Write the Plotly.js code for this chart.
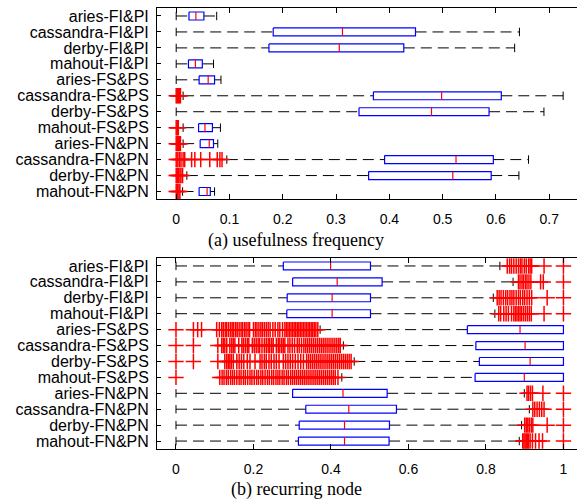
<!DOCTYPE html>
<html><head><meta charset="utf-8">
<script src="https://cdn.plot.ly/plotly-3.0.1.min.js"></script>
<style>html,body{margin:0;padding:0;background:#fff}#chart{width:577px;height:504px}</style>
</head><body><div id="chart"></div>
<script>
const categories = ['aries-FI&PI','cassandra-FI&PI','derby-FI&PI','mahout-FI&PI',
  'aries-FS&PS','cassandra-FS&PS','derby-FS&PS','mahout-FS&PS',
  'aries-FN&PN','cassandra-FN&PN','derby-FN&PN','mahout-FN&PN'];

// (a) usefulness frequency
const freqLo  = [0, 0, 0, 0, 0, 0.013, 0, 0.013, 0.013, 0.095, 0.02, 0.012];
const freqQ1  = [0.024, 0.182, 0.174, 0.023, 0.043, 0.370, 0.343, 0.042, 0.045, 0.391, 0.361, 0.043];
const freqMed = [0.037, 0.312, 0.306, 0.036, 0.060, 0.498, 0.479, 0.054, 0.062, 0.525, 0.519, 0.058];
const freqQ3  = [0.052, 0.449, 0.427, 0.049, 0.072, 0.610, 0.587, 0.068, 0.070, 0.595, 0.591, 0.064];
const freqHi  = [0.076, 0.644, 0.635, 0.070, 0.084, 0.726, 0.690, 0.083, 0.078, 0.661, 0.643, 0.072];
const freqOutliers = [
  [], [], [], [], [],
  [0, 0.002, 0.004, 0.006, 0.008],
  [],
  [0, 0.002, 0.004],
  [0, 0.002, 0.004, 0.006, 0.008],
  [0, 0.003, 0.006, 0.009, 0.013, 0.016, 0.029, 0.035, 0.046, 0.063, 0.077, 0.082, 0.086],
  [0, 0.002, 0.004, 0.007, 0.009, 0.012],
  [0, 0.002, 0.005, 0.007]
];

// (b) recurring node
const recLo  = [0, 0, 0, 0, 0.372, 0.432, 0.46, 0.428, 0, 0, 0, 0];
const recQ1  = [0.277, 0.301, 0.287, 0.286, 0.752, 0.774, 0.783, 0.772, 0.301, 0.335, 0.318, 0.316];
const recMed = [0.399, 0.416, 0.403, 0.403, 0.888, 0.901, 0.914, 0.899, 0.431, 0.446, 0.435, 0.435];
const recQ3  = [0.502, 0.532, 0.502, 0.502, 1, 1, 1, 1, 0.545, 0.569, 0.551, 0.550];
const recHi  = [0.836, 0.870, 0.819, 0.823, 1, 1, 1, 1, 0.899, 0.912, 0.892, 0.886];
const recOutliers = [
  [0.855, 0.861, 0.866, 0.872, 0.878, 0.884, 0.889, 0.893, 0.899, 0.904, 0.910, 0.914, 0.918, 0.950, 1],
  [0.884, 0.888, 0.893, 0.897, 0.902, 0.906, 0.911, 0.916, 0.941, 0.948, 1],
  [0.829, 0.834, 0.839, 0.845, 0.851, 0.856, 0.862, 0.867, 0.872, 0.878, 0.884, 0.889, 0.895, 0.900, 0.906, 0.912, 0.918, 0.958, 1],
  [0.833, 0.838, 0.846, 0.852, 0.858, 0.866, 0.872, 0.876, 0.880, 0.884, 0.888, 0.892, 0.897, 0.902, 0.907, 0.912, 0.917, 0.950, 1],
  [0, 0.045, 0.056, 0.066, 0.105, 0.112, 0.118, 0.122, 0.127, 0.131, 0.136, 0.141, 0.145, 0.149, 0.154, 0.158, 0.163, 0.168, 0.172, 0.177, 0.181, 0.186, 0.190, 0.200, 0.205, 0.209, 0.214, 0.219, 0.223, 0.228, 0.233, 0.238, 0.243, 0.250, 0.256, 0.263, 0.268, 0.275, 0.281, 0.285, 0.289, 0.293, 0.297, 0.301, 0.305, 0.309, 0.313, 0.317, 0.321, 0.325, 0.329, 0.333, 0.337, 0.341, 0.345, 0.349, 0.353, 0.357, 0.361, 0.366],
  [0, 0.045, 0.108, 0.118, 0.122, 0.126, 0.131, 0.139, 0.144, 0.148, 0.152, 0.162, 0.170, 0.174, 0.179, 0.184, 0.188, 0.197, 0.202, 0.207, 0.212, 0.216, 0.222, 0.228, 0.233, 0.238, 0.242, 0.247, 0.251, 0.259, 0.264, 0.268, 0.273, 0.277, 0.281, 0.289, 0.294, 0.300, 0.306, 0.313, 0.318, 0.324, 0.330, 0.335, 0.340, 0.345, 0.350, 0.355, 0.360, 0.365, 0.370, 0.375, 0.380, 0.385, 0.390, 0.395, 0.400, 0.405, 0.410, 0.415, 0.420, 0.424],
  [0, 0.045, 0.108, 0.126, 0.131, 0.135, 0.139, 0.143, 0.148, 0.157, 0.163, 0.169, 0.175, 0.184, 0.191, 0.204, 0.217, 0.222, 0.228, 0.233, 0.240, 0.246, 0.253, 0.259, 0.266, 0.277, 0.283, 0.289, 0.295, 0.301, 0.308, 0.315, 0.322, 0.329, 0.337, 0.342, 0.347, 0.352, 0.357, 0.362, 0.367, 0.372, 0.377, 0.382, 0.387, 0.392, 0.397, 0.402, 0.407, 0.412, 0.417, 0.422, 0.427, 0.432, 0.437, 0.442, 0.447, 0.452],
  [0, 0.113, 0.119, 0.124, 0.130, 0.135, 0.141, 0.146, 0.151, 0.157, 0.163, 0.168, 0.174, 0.179, 0.185, 0.191, 0.196, 0.202, 0.208, 0.213, 0.219, 0.224, 0.230, 0.236, 0.241, 0.247, 0.252, 0.258, 0.263, 0.268, 0.274, 0.279, 0.285, 0.290, 0.296, 0.301, 0.306, 0.311, 0.316, 0.321, 0.326, 0.331, 0.336, 0.341, 0.346, 0.351, 0.356, 0.361, 0.366, 0.371, 0.376, 0.381, 0.386, 0.391, 0.396, 0.401, 0.406, 0.411, 0.418],
  [0.906, 0.910, 0.915, 0.920, 0.947, 1],
  [0.921, 0.926, 0.932, 0.938, 0.944, 0.950, 1],
  [0.900, 0.904, 0.908, 0.912, 0.917, 0.921, 0.958, 1],
  [0.895, 0.898, 0.901, 0.904, 0.907, 0.910, 0.914, 0.920, 0.928, 0.937, 0.946, 1]
];

const freqTicks = [0, 0.1, 0.2, 0.3, 0.4, 0.5, 0.6, 0.7];
const recTicks = [0, 0.2, 0.4, 0.6, 0.8, 1];
const captions = ['(a) usefulness frequency', '(b) recurring node'];

function build(lo, q1, med, q3, hi, outl, xa, ya) {
  const wx = [], wy = [], cx = [], cy = [], bx = [], by = [], mx = [], my = [], ox = [], oy = [];
  const h = 0.25;
  categories.forEach((c, i) => {
    const y = i + 1;
    if (q1[i] > lo[i]) { wx.push(lo[i], q1[i], null); wy.push(y, y, null); cx.push(lo[i]); cy.push(y); }
    if (hi[i] > q3[i]) { wx.push(q3[i], hi[i], null); wy.push(y, y, null); cx.push(hi[i]); cy.push(y); }
    bx.push(q1[i], q3[i], q3[i], q1[i], q1[i], null);
    by.push(y - h, y - h, y + h, y + h, y - h, null);
    mx.push(med[i], med[i], null); my.push(y - h, y + h, null);
    outl[i].forEach(v => { ox.push(v); oy.push(y); });
  });
  const base = {type: 'scatter', xaxis: xa, yaxis: ya, hoverinfo: 'skip', showlegend: false};
  return [
    Object.assign({}, base, {mode: 'lines', x: wx, y: wy, line: {color: '#000', width: 1, dash: '11px,6px'}}),
    Object.assign({}, base, {mode: 'markers', x: cx, y: cy, marker: {symbol: 'line-ns', size: 6, color: '#000', line: {color: '#000', width: 1}}}),
    Object.assign({}, base, {mode: 'lines', x: bx, y: by, line: {color: '#0000ff', width: 1.2}}),
    Object.assign({}, base, {mode: 'lines', x: mx, y: my, line: {color: '#ff0000', width: 1.2}}),
    Object.assign({}, base, {mode: 'markers', x: ox, y: oy, marker: {symbol: 'cross-thin-open', size: 11, color: '#ff0000', line: {color: '#ff0000', width: 1.5}}})
  ];
}

const data = build(freqLo, freqQ1, freqMed, freqQ3, freqHi, freqOutliers, 'x', 'y')
  .concat(build(recLo, recQ1, recMed, recQ3, recHi, recOutliers, 'x2', 'y2'));

const tickFont = {family: 'Liberation Sans, Arial, sans-serif', size: 14, color: '#000'};
const catFont = {family: 'Liberation Sans, Arial, sans-serif', size: 16, color: '#000'};
const xCommon = {ticks: 'inside', ticklen: 5, tickcolor: '#000', showline: true, linecolor: '#000', linewidth: 1,
  mirror: 'ticks', showgrid: false, zeroline: false, tickfont: tickFont, ticklabelstandoff: 7};
const yCommon = {ticks: 'inside', ticklen: 4, tickcolor: '#000', showline: true, linecolor: '#000', linewidth: 1,
  showgrid: false, zeroline: false, tickfont: catFont, range: [12.5, 0.5],
  tickvals: categories.map((c, i) => i + 1), ticktext: categories, ticklabelstandoff: 4};

const layout = {
  width: 577, height: 504,
  margin: {l: 0, r: 0, t: 0, b: 0},
  paper_bgcolor: '#fff', plot_bgcolor: '#fff',
  showlegend: false,
  xaxis: Object.assign({}, xCommon, {domain: [0.2721, 1], anchor: 'y', range: [-0.036, 0.752], tickvals: freqTicks, ticktext: freqTicks.map(String)}),
  yaxis: Object.assign({}, yCommon, {domain: [0.6042, 0.9841], anchor: 'x'}),
  xaxis2: Object.assign({}, xCommon, {domain: [0.2721, 1], anchor: 'y2', range: [-0.049, 1.035], tickvals: recTicks, ticktext: recTicks.map(String)}),
  yaxis2: Object.assign({}, yCommon, {domain: [0.1091, 0.4881], anchor: 'x2'}),
  annotations: [
    {text: captions[0], xref: 'paper', yref: 'paper', x: 0.513, y: 0.5238, xanchor: 'center', yanchor: 'middle', showarrow: false,
     font: {family: 'Liberation Serif, Times New Roman, serif', size: 18, color: '#000'}},
    {text: captions[1], xref: 'paper', yref: 'paper', x: 0.513, y: 0.0278, xanchor: 'center', yanchor: 'middle', showarrow: false,
     font: {family: 'Liberation Serif, Times New Roman, serif', size: 18, color: '#000'}}
  ]
};

Plotly.newPlot('chart', data, layout, {staticPlot: true, displayModeBar: false});
</script>
</body></html>
